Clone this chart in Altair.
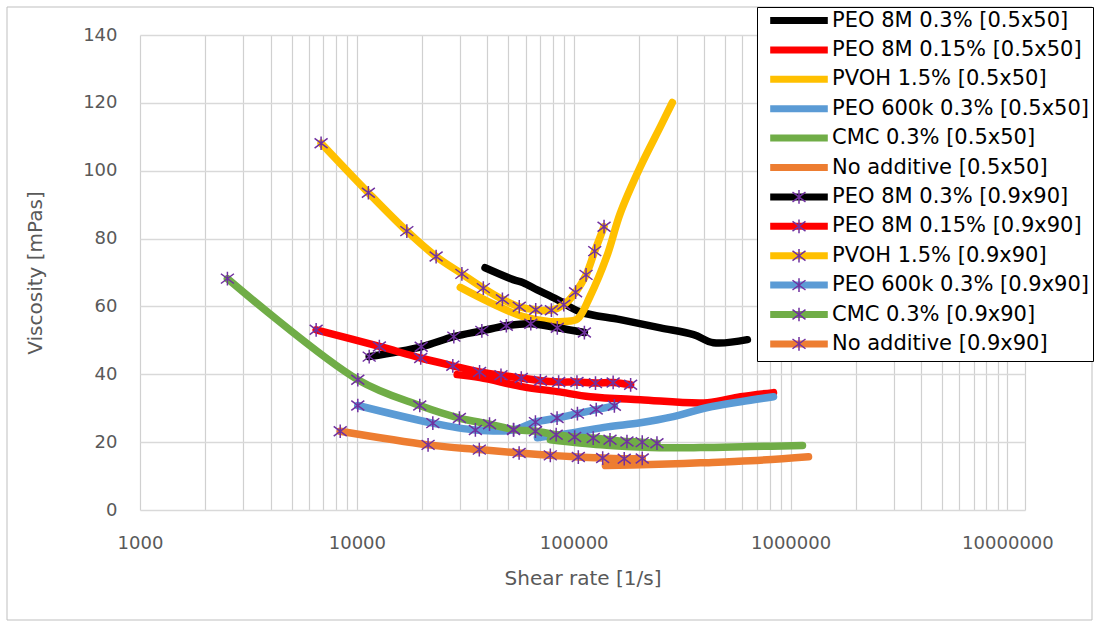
import altair as alt
import pandas as pd

# ---------------- data ----------------
names_a = ["PEO 8M 0.3% [0.5x50]", "PEO 8M 0.15% [0.5x50]", "PVOH 1.5% [0.5x50]",
           "PEO 600k 0.3% [0.5x50]", "CMC 0.3% [0.5x50]", "No additive [0.5x50]"]
names_b = ["PEO 8M 0.3% [0.9x90]", "PEO 8M 0.15% [0.9x90]", "PVOH 1.5% [0.9x90]",
           "PEO 600k 0.3% [0.9x90]", "CMC 0.3% [0.9x90]", "No additive [0.9x90]"]
palette = ["#000000", "#FF0000", "#FFC000", "#5B9BD5", "#70AD47", "#ED7D31"]

# [0.5x50] series (lines only)
peo8m03_a_x = [39000, 52600, 58500, 67900, 84000, 107000, 164000, 251000, 357000, 441000, 632000]
peo8m03_a_y = [71.4, 67.9, 67.0, 64.9, 62.0, 58.4, 56.1, 53.7, 51.7, 49.3, 50.2]
peo8m015_a_x = [29000, 37000, 58500, 84000, 119000, 203000, 414000, 588000, 834000]
peo8m015_a_y = [39.9, 39.0, 36.3, 34.9, 33.4, 32.5, 31.6, 33.4, 34.6]
pvoh_a_x = [30000, 41000, 58500, 78000, 90000, 104000, 119000, 142000, 164000, 203000, 251000, 285000]
pvoh_a_y = [65.6, 61.2, 57.0, 55.5, 55.6, 56.3, 63.0, 74.7, 87.5, 101.2, 113.0, 120.1]
peo600_a_x = [68000, 99500, 143000, 203000, 288000, 414000, 588000, 834000]
peo600_a_y = [21.3, 22.8, 24.5, 25.7, 27.5, 30.2, 31.9, 33.4]
cmc_a_x = [78000, 133000, 226000, 384000, 653000, 1135000]
cmc_a_y = [20.7, 19.2, 18.4, 18.4, 18.7, 19.0]
noadd_a_x = [140000, 226000, 384000, 653000, 1210000]
noadd_a_y = [13.1, 13.4, 13.9, 14.5, 15.7]

# [0.9x90] series (lines with star markers)
peo8m03_b_x = [11400, 19800, 28000, 37700, 48900, 63400, 84000, 112000]
peo8m03_b_y = [45.2, 48.1, 51.1, 52.8, 54.3, 54.9, 53.7, 52.3]
peo8m015_b_x = [6490, 12700, 19700, 27700, 36800, 46200, 57300, 70200, 85200, 103500, 126000, 152000, 183000]
peo8m015_b_y = [53.1, 48.2, 44.8, 42.5, 40.7, 39.7, 38.9, 38.1, 37.7, 37.7, 37.4, 37.6, 36.9]
pvoh_b_x = [6840, 11300, 17000, 23200, 30500, 38300, 46900, 56100, 66800, 78900, 90000, 102000, 114000, 125000, 138000]
pvoh_b_y = [108.1, 93.5, 82.2, 74.7, 69.6, 65.4, 62.1, 59.9, 59.0, 58.9, 60.5, 64.2, 69.3, 76.3, 83.5]
peo600_b_x = [10100, 22400, 35200, 52800, 66600, 83800, 104000, 127000, 154000]
peo600_b_y = [30.8, 25.6, 23.6, 23.6, 25.9, 27.1, 28.4, 29.6, 30.7]
cmc_b_x = [2530, 10100, 19500, 29700, 40900, 52800, 66600, 83000, 101000, 123000, 147000, 176000, 207000, 242000]
cmc_b_y = [68.2, 38.4, 30.8, 27.1, 25.3, 23.7, 23.2, 22.2, 21.5, 21.2, 20.7, 20.2, 20.0, 19.7]
noadd_b_x = [8380, 21300, 36700, 56000, 78000, 105000, 136000, 171000, 207000]
noadd_b_y = [23.2, 19.2, 17.8, 16.8, 16.1, 15.6, 15.3, 15.1, 15.2]

x_major = [1000, 10000, 100000, 1000000, 10000000]
y_ticks = [0, 20, 40, 60, 80, 100, 120, 140]

series_a = [(peo8m03_a_x, peo8m03_a_y), (peo8m015_a_x, peo8m015_a_y), (pvoh_a_x, pvoh_a_y),
            (peo600_a_x, peo600_a_y), (cmc_a_x, cmc_a_y), (noadd_a_x, noadd_a_y)]
series_b = [(peo8m03_b_x, peo8m03_b_y), (peo8m015_b_x, peo8m015_b_y), (pvoh_b_x, pvoh_b_y),
            (peo600_b_x, peo600_b_y), (cmc_b_x, cmc_b_y), (noadd_b_x, noadd_b_y)]

all_names = names_a + names_b
marker_names = [n + " *" for n in all_names]   # separate domain -> separate (overlay) legend
colors = palette + palette

rows_a, rows_b = [], []
for name, (xs, ys) in zip(names_a, series_a):
    for i, (xv, yv) in enumerate(zip(xs, ys)):
        rows_a.append({"series": name, "x": xv, "y": yv, "i": i})
for name, (xs, ys) in zip(names_b, series_b):
    for i, (xv, yv) in enumerate(zip(xs, ys)):
        rows_b.append({"series": name, "mseries": name + " *", "x": xv, "y": yv, "i": i})
df_a = pd.DataFrame(rows_a)
df_b = pd.DataFrame(rows_b)

# gridline positions for the log axis: 1..9 x 10^k, plus the plot edge
grid_vals = []
for p in [1000, 10000, 100000, 1000000]:
    for m in range(1, 10):
        grid_vals.append(p * m)
grid_vals.append(10000000)
XMAX = 12050000
grid_vals.append(XMAX)

FONT = "DejaVu Sans"
GREY = "#595959"
# asterisk marker; the bare move-to points only widen the symbol's bounds (nothing drawn)
STAR = "M0,-1.69M0,1.69M-1,-0.75L1,0.75M-1,0.75L1,-0.75M0,-1.05L0,1.05"
EMPTY = "M0,-1.69M0,1.69"

label_test = " || ".join(f"datum.value == {v}" for v in x_major)

x_enc = alt.X(
    "x:Q",
    scale=alt.Scale(type="log", domain=[1000, XMAX], nice=False),
    axis=alt.Axis(
        values=grid_vals, format="d",
        labelExpr=f"({label_test}) ? format(datum.value, 'd') : ''",
        grid=True, gridColor="#d0d0d0", gridWidth=1.2, ticks=False, domain=False,
        labelFont=FONT, labelFontSize=18, labelColor=GREY, labelPadding=24,
        labelOverlap=False, labelFlush=False,
        title="Shear rate [1/s]", titleFont=FONT, titleFontSize=20, titleFontWeight="normal",
        titleColor=GREY, titleY=68, titleBaseline="middle",
    ),
)
y_enc = alt.Y(
    "y:Q",
    scale=alt.Scale(domain=[0, 140], nice=False),
    axis=alt.Axis(
        values=y_ticks, grid=True, gridColor="#d9d9d9", gridWidth=1.5, ticks=False, domain=False,
        labelFont=FONT, labelFontSize=18, labelColor=GREY, labelPadding=23,
        title="Viscosity [mPas]", titleFont=FONT, titleFontSize=20, titleFontWeight="normal",
        titleColor=GREY, titleX=-105, titleY=237.5, titleAngle=270, titleBaseline="middle",
    ),
)

LEG = dict(title=None, orient="none", legendX=617, legendY=-28, symbolOffset=28.5, labelOffset=22.5,
           labelFont=FONT, labelFontSize=21, labelLimit=500, rowPadding=0.4, padding=3)

color_legend = alt.Legend(
    symbolType="M-4.8,0L4.8,0", symbolSize=144, symbolStrokeWidth=7,
    labelColor="#000000", strokeColor="#000000", fillColor="#ffffff", zindex=1, **LEG,
)
color_enc = alt.Color("series:N", scale=alt.Scale(domain=all_names, range=colors), legend=color_legend)

shape_legend = alt.Legend(
    symbolSize=169, symbolStrokeWidth=1.5, symbolStrokeColor="#7030A0", symbolFillColor="transparent",
    labelExpr="' '", labelOpacity=0, zindex=2, **LEG,
)
shape_enc = alt.Shape("mseries:N",
                      scale=alt.Scale(domain=marker_names, range=[EMPTY] * 6 + [STAR] * 6),
                      legend=shape_legend)

line_style = dict(strokeWidth=7.5, strokeCap="round", strokeJoin="round", interpolate="catmull-rom")
line_a = alt.Chart(df_a).mark_line(**line_style).encode(x=x_enc, y=y_enc, color=color_enc, order="i:Q")
line_b = alt.Chart(df_b).mark_line(**line_style).encode(x=x_enc, y=y_enc, color=color_enc, order="i:Q")
pts_b = alt.Chart(df_b).mark_point(filled=False, stroke="#7030A0", strokeWidth=1.5, size=169,
                                   opacity=1).encode(x=x_enc, y=y_enc, shape=shape_enc)

# light outer frame of the chart area (decoration, pixel offsets from the plot origin)
frame = alt.Chart(pd.DataFrame({"k": [0]})).mark_rect(
    fill="transparent", stroke="#bfbfbf", strokeWidth=1
).encode(x=alt.value(-133), x2=alt.value(952), y=alt.value(-28), y2=alt.value(585))

chart = alt.layer(frame, line_a, line_b, pts_b).properties(
    width=885, height=475,
    autosize=alt.AutoSizeParams(type="none"),
    padding={"left": 140, "top": 35, "right": 70, "bottom": 114},
    background="#ffffff",
).configure_view(strokeWidth=0)

chart.save("out.html", embed_options={"renderer": "svg", "actions": False})
